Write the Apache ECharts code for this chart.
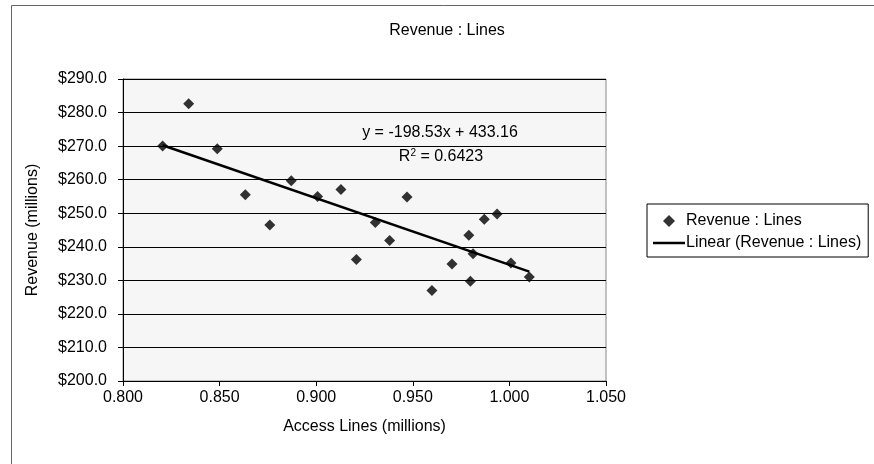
<!DOCTYPE html>
<html>
<head>
<meta charset="utf-8">
<script src="https://cdn.jsdelivr.net/npm/echarts@6/dist/echarts.min.js"></script>
<style>html,body{margin:0;padding:0;background:#fff;}#c{width:874px;height:464px;}</style>
</head>
<body>
<div id="c"></div>
<script>
// ---- data ----
const accessLines = [0.8205, 0.834, 0.8488, 0.8633, 0.876, 0.8871, 0.9007, 0.9128, 0.9208, 0.9306, 0.938, 0.947, 0.9599, 0.9703, 0.979, 0.9798, 0.9812, 0.987, 0.9936, 1.0008, 1.0103];
const revenue     = [270.0, 282.6, 269.2, 255.5, 246.5, 259.7, 255.0, 257.1, 236.2, 247.2, 241.9, 254.8, 227.0, 234.9, 243.4, 229.7, 237.9, 248.2, 249.8, 235.2, 231.0];
const trendSlope = -198.53;
const trendIntercept = 433.16;
const rSquared = '0.6423';
const xTicks = { min: 0.8, max: 1.05, step: 0.05 };
const yTicks = { min: 200, max: 290, step: 10 };
const titleText = 'Revenue : Lines';
const seriesName = 'Revenue : Lines';
const trendName = 'Linear (Revenue : Lines)';
const xAxisTitle = 'Access Lines (millions)';
const yAxisTitle = 'Revenue (millions)';

const FONT = '"Liberation Sans", Arial, sans-serif';
const FS = 16;

const points = accessLines.map((x, i) => [x, revenue[i]]);
const xMin = Math.min(...accessLines), xMax = Math.max(...accessLines);
const trend = [[xMin, trendSlope * xMin + trendIntercept], [xMax, trendSlope * xMax + trendIntercept]];

const chart = echarts.init(document.getElementById('c'), null, { renderer: 'canvas' });
chart.setOption({
  backgroundColor: '#fff',
  animation: false,
  textStyle: { fontFamily: FONT, color: '#000' },
  title: {
    text: titleText, left: 442, top: 18, textAlign: 'center',
    textStyle: { fontFamily: FONT, fontSize: FS, fontWeight: 'normal', color: '#000' }
  },
  grid: {
    left: 123, top: 79, right: 268, bottom: 83,
    show: true, backgroundColor: '#f6f6f6', borderColor: '#888', borderWidth: 1
  },
  legend: {
    orient: 'vertical', left: 647, top: 204,
    padding: [9, 7, 6, 6], itemGap: 6, itemWidth: 32, itemHeight: 12,
    symbolKeepAspect: true,
    borderColor: '#000', borderWidth: 1, backgroundColor: '#fff',
    textStyle: { fontFamily: FONT, fontSize: FS, color: '#000', padding: [0, 0, 0, -4] },
    data: [
      { name: seriesName, icon: 'path://M5,0L10,5L5,10L0,5Z' },
      { name: trendName, icon: 'path://M0,0H32V2.5H0Z' }
    ]
  },
  xAxis: {
    type: 'value', min: xTicks.min, max: xTicks.max, interval: xTicks.step,
    name: xAxisTitle, nameLocation: 'middle', nameGap: 38,
    nameTextStyle: { fontFamily: FONT, fontSize: FS, color: '#000' },
    axisLine: { show: true, onZero: false, lineStyle: { color: '#000', width: 1 } },
    axisTick: { show: true, inside: false, length: 5, lineStyle: { color: '#000' } },
    axisLabel: { fontFamily: FONT, fontSize: FS, color: '#000', margin: 9, formatter: v => v.toFixed(3) },
    splitLine: { show: false }
  },
  yAxis: {
    type: 'value', min: yTicks.min, max: yTicks.max, interval: yTicks.step,
    name: yAxisTitle, nameLocation: 'middle', nameGap: 82, nameRotate: 90,
    nameTextStyle: { fontFamily: FONT, fontSize: FS, color: '#000' },
    axisLine: { show: true, onZero: false, lineStyle: { color: '#000', width: 1 } },
    axisTick: { show: true, inside: false, length: 5, lineStyle: { color: '#000' } },
    axisLabel: { fontFamily: FONT, fontSize: FS, color: '#000', margin: 16, formatter: v => '$' + v.toFixed(1) },
    splitLine: { show: true, lineStyle: { color: '#000', width: 1 } }
  },
  series: [
    {
      name: seriesName, type: 'scatter', data: points,
      symbol: 'diamond', symbolSize: 11,
      itemStyle: { color: '#000' }, z: 3
    },
    {
      name: trendName, type: 'line', data: trend,
      symbol: 'none', showSymbol: false,
      lineStyle: { color: '#000', width: 2.5 },
      itemStyle: { color: '#000' }, z: 2
    }
  ],
  graphic: [
    {
      type: 'rect', shape: { x: 11.5, y: 5.5, width: 900, height: 500 },
      style: { fill: 'none', stroke: '#666', lineWidth: 1 }, silent: true, z: -10
    },
    {
      type: 'text', x: 440, y: 133,
      style: { text: 'y = ' + trendSlope + 'x + ' + trendIntercept, font: FS + 'px ' + FONT, fill: '#000', align: 'center', verticalAlign: 'middle' }, z: 10
    },
    {
      type: 'text', x: 441, y: 157,
      style: {
        text: '{a|R}{s|2}{a| = ' + rSquared + '}',
        rich: { a: { font: FS + 'px ' + FONT, fill: '#000' }, s: { font: '10px ' + FONT, fill: '#000', verticalAlign: 'top', padding: [0, 0, 8, 0] } },
        align: 'center', verticalAlign: 'middle'
      }, z: 10
    }
  ]
});
</script>
</body>
</html>
